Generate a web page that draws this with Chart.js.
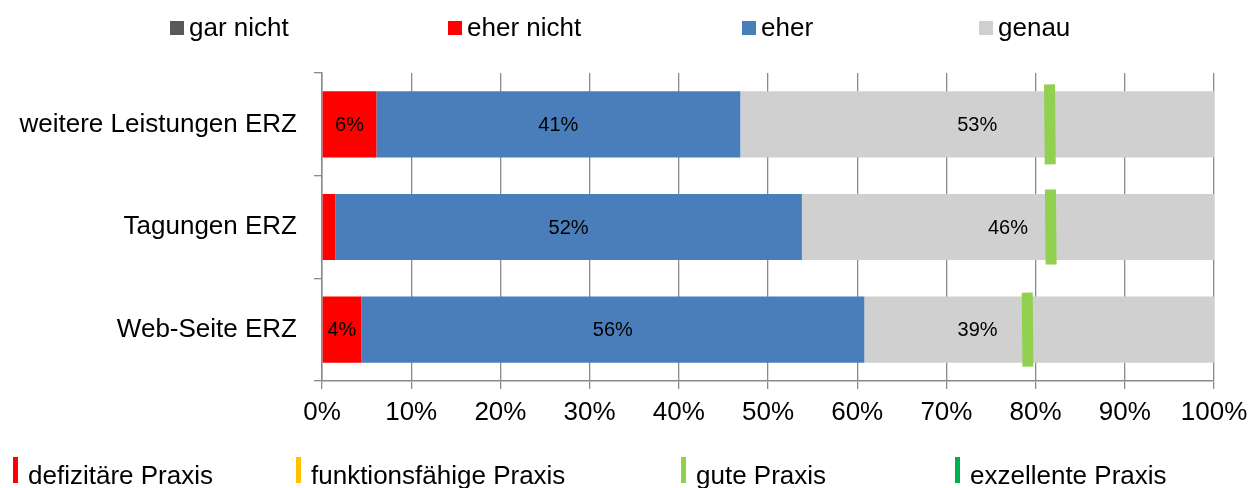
<!DOCTYPE html>
<html>
<head>
<meta charset="utf-8">
<script src="https://cdn.jsdelivr.net/npm/chart.js@4/dist/chart.umd.min.js"></script>
<style>
  body { margin: 0; background: #fff; }
</style>
</head>
<body>
<canvas id="chart" width="1249" height="488"></canvas>
<script>
// Kategorien (von oben nach unten)
var kategorien = ['weitere Leistungen ERZ', 'Tagungen ERZ', 'Web-Seite ERZ'];

// Anteile in Prozent
var garNicht = [0, 0, 0];
var eherNicht = [6.1, 1.5, 4.4];
var eher = [40.8, 52.3, 56.4];
var genau = [53.1, 46.2, 39.2];

// Bewertung der Praxis (grüne Markierung)
var praxisWert = [81.6, 81.7, 79.1];

// Achsenbeschriftung
var xTickLabels = ['0%', '10%', '20%', '30%', '40%', '50%', '60%', '70%', '80%', '90%', '100%'];

// Legenden
var legendeOben = ['gar nicht', 'eher nicht', 'eher', 'genau'];
var legendeUnten = ['defizitäre Praxis', 'funktionsfähige Praxis', 'gute Praxis', 'exzellente Praxis'];

var farbenOben = ['#595959', '#FF0000', '#4A7EBB', '#D0D0D0'];
var farbenUnten = ['#FF0000', '#FFC000', '#92D050', '#00B050'];

var FONT = "'Liberation Sans', Arial, sans-serif";
Chart.defaults.font.family = FONT;

// Prozentwerte in die Balken schreiben
var balkenText = {
    id: 'balkenText',
    afterDatasetsDraw: function(chart) {
        var ctx = chart.ctx;
        var marker = chart.getDatasetMeta(4).data;
        ctx.save();
        ctx.font = '20px ' + FONT;
        ctx.fillStyle = '#000';
        ctx.textBaseline = 'middle';
        chart.data.datasets.forEach(function(ds, i) {
            if (ds.type === 'line') return;
            var meta = chart.getDatasetMeta(i);
            meta.data.forEach(function(bar, j) {
                var v = ds.data[j];
                if (v < 3) return;
                var txt = Math.round(v) + '%';
                var mitte = (bar.x + bar.base) / 2;
                var halb = ctx.measureText(txt).width / 2;
                var mx = marker[j] ? marker[j].x : -999;
                // Text nicht auf die grüne Markierung legen
                if (Math.abs(mx - mitte) < halb + 10) {
                    ctx.textAlign = 'right';
                    ctx.fillText(txt, mx - 30, bar.y + 1);
                } else {
                    ctx.textAlign = 'center';
                    ctx.fillText(txt, mitte, bar.y + 1);
                }
            });
        });
        ctx.restore();
    }
};

// Legenden oben und unten selber zeichnen
var legenden = {
    id: 'legenden',
    afterDraw: function(chart) {
        var ctx = chart.ctx;
        ctx.save();
        ctx.font = '26px ' + FONT;
        ctx.fillStyle = '#000';
        ctx.textBaseline = 'alphabetic';
        ctx.textAlign = 'left';

        var xOben = [170, 448, 742, 979];
        legendeOben.forEach(function(txt, i) {
            ctx.fillStyle = farbenOben[i];
            ctx.fillRect(xOben[i], 21, 14, 14);
            ctx.fillStyle = '#000';
            ctx.fillText(txt, xOben[i] + 19, 36);
        });

        var xUnten = [13, 296, 681, 955];
        legendeUnten.forEach(function(txt, i) {
            ctx.fillStyle = farbenUnten[i];
            ctx.fillRect(xUnten[i], 457, 5, 26);
            ctx.fillStyle = '#000';
            ctx.fillText(txt, xUnten[i] + 15, 484);
        });
        ctx.restore();
    }
};

var ctx = document.getElementById('chart').getContext('2d');
var myChart = new Chart(ctx, {
    type: 'bar',
    data: {
        labels: kategorien,
        datasets: [
            { label: legendeOben[0], data: garNicht, backgroundColor: farbenOben[0], stack: 's' },
            { label: legendeOben[1], data: eherNicht, backgroundColor: farbenOben[1], stack: 's' },
            { label: legendeOben[2], data: eher, backgroundColor: farbenOben[2], stack: 's' },
            { label: legendeOben[3], data: genau, backgroundColor: farbenOben[3], stack: 's' },
            {
                type: 'line',
                label: 'Praxis',
                data: praxisWert,
                indexAxis: 'y',
                stack: 'm',
                order: -1,
                showLine: false,
                pointStyle: 'line',
                rotation: 89.5,
                pointRadius: [40, 37.5, 37],
                pointHoverRadius: [40, 37.5, 37],
                pointBorderWidth: 11,
                pointHoverBorderWidth: 11,
                pointBorderColor: '#92D050',
                pointBackgroundColor: '#92D050'
            }
        ]
    },
    options: {
        indexAxis: 'y',
        responsive: false,
        animation: false,
        categoryPercentage: 1,
        barPercentage: 0.645,
        layout: {
            autoPadding: false,
            padding: { top: 73, right: 35, bottom: 47, left: 0 }
        },
        plugins: {
            legend: { display: false },
            tooltip: { enabled: false }
        },
        scales: {
            x: {
                stacked: true,
                min: 0,
                max: 100,
                ticks: {
                    stepSize: 10,
                    color: '#000',
                    font: { size: 26 },
                    padding: 8,
                    maxRotation: 0,
                    callback: function(v, i) { return xTickLabels[i]; }
                },
                grid: {
                    color: '#8a8a8a',
                    lineWidth: 1.3,
                    tickLength: 8
                },
                border: { color: '#8a8a8a', width: 1.5 },
                afterFit: function(scale) {
                    scale.height = 60;
                    scale.paddingLeft = 0;
                    scale.paddingRight = 0;
                }
            },
            y: {
                stacked: true,
                ticks: {
                    color: '#000',
                    font: { size: 26 },
                    padding: 17
                },
                grid: {
                    drawOnChartArea: false,
                    color: '#8a8a8a',
                    lineWidth: 1.3,
                    tickLength: 8
                },
                border: { color: '#8a8a8a', width: 1.5 },
                afterFit: function(scale) {
                    scale.width = 322;
                    scale.paddingTop = 0;
                    scale.paddingBottom = 0;
                }
            }
        }
    },
    plugins: [balkenText, legenden]
});
</script>
</body>
</html>
